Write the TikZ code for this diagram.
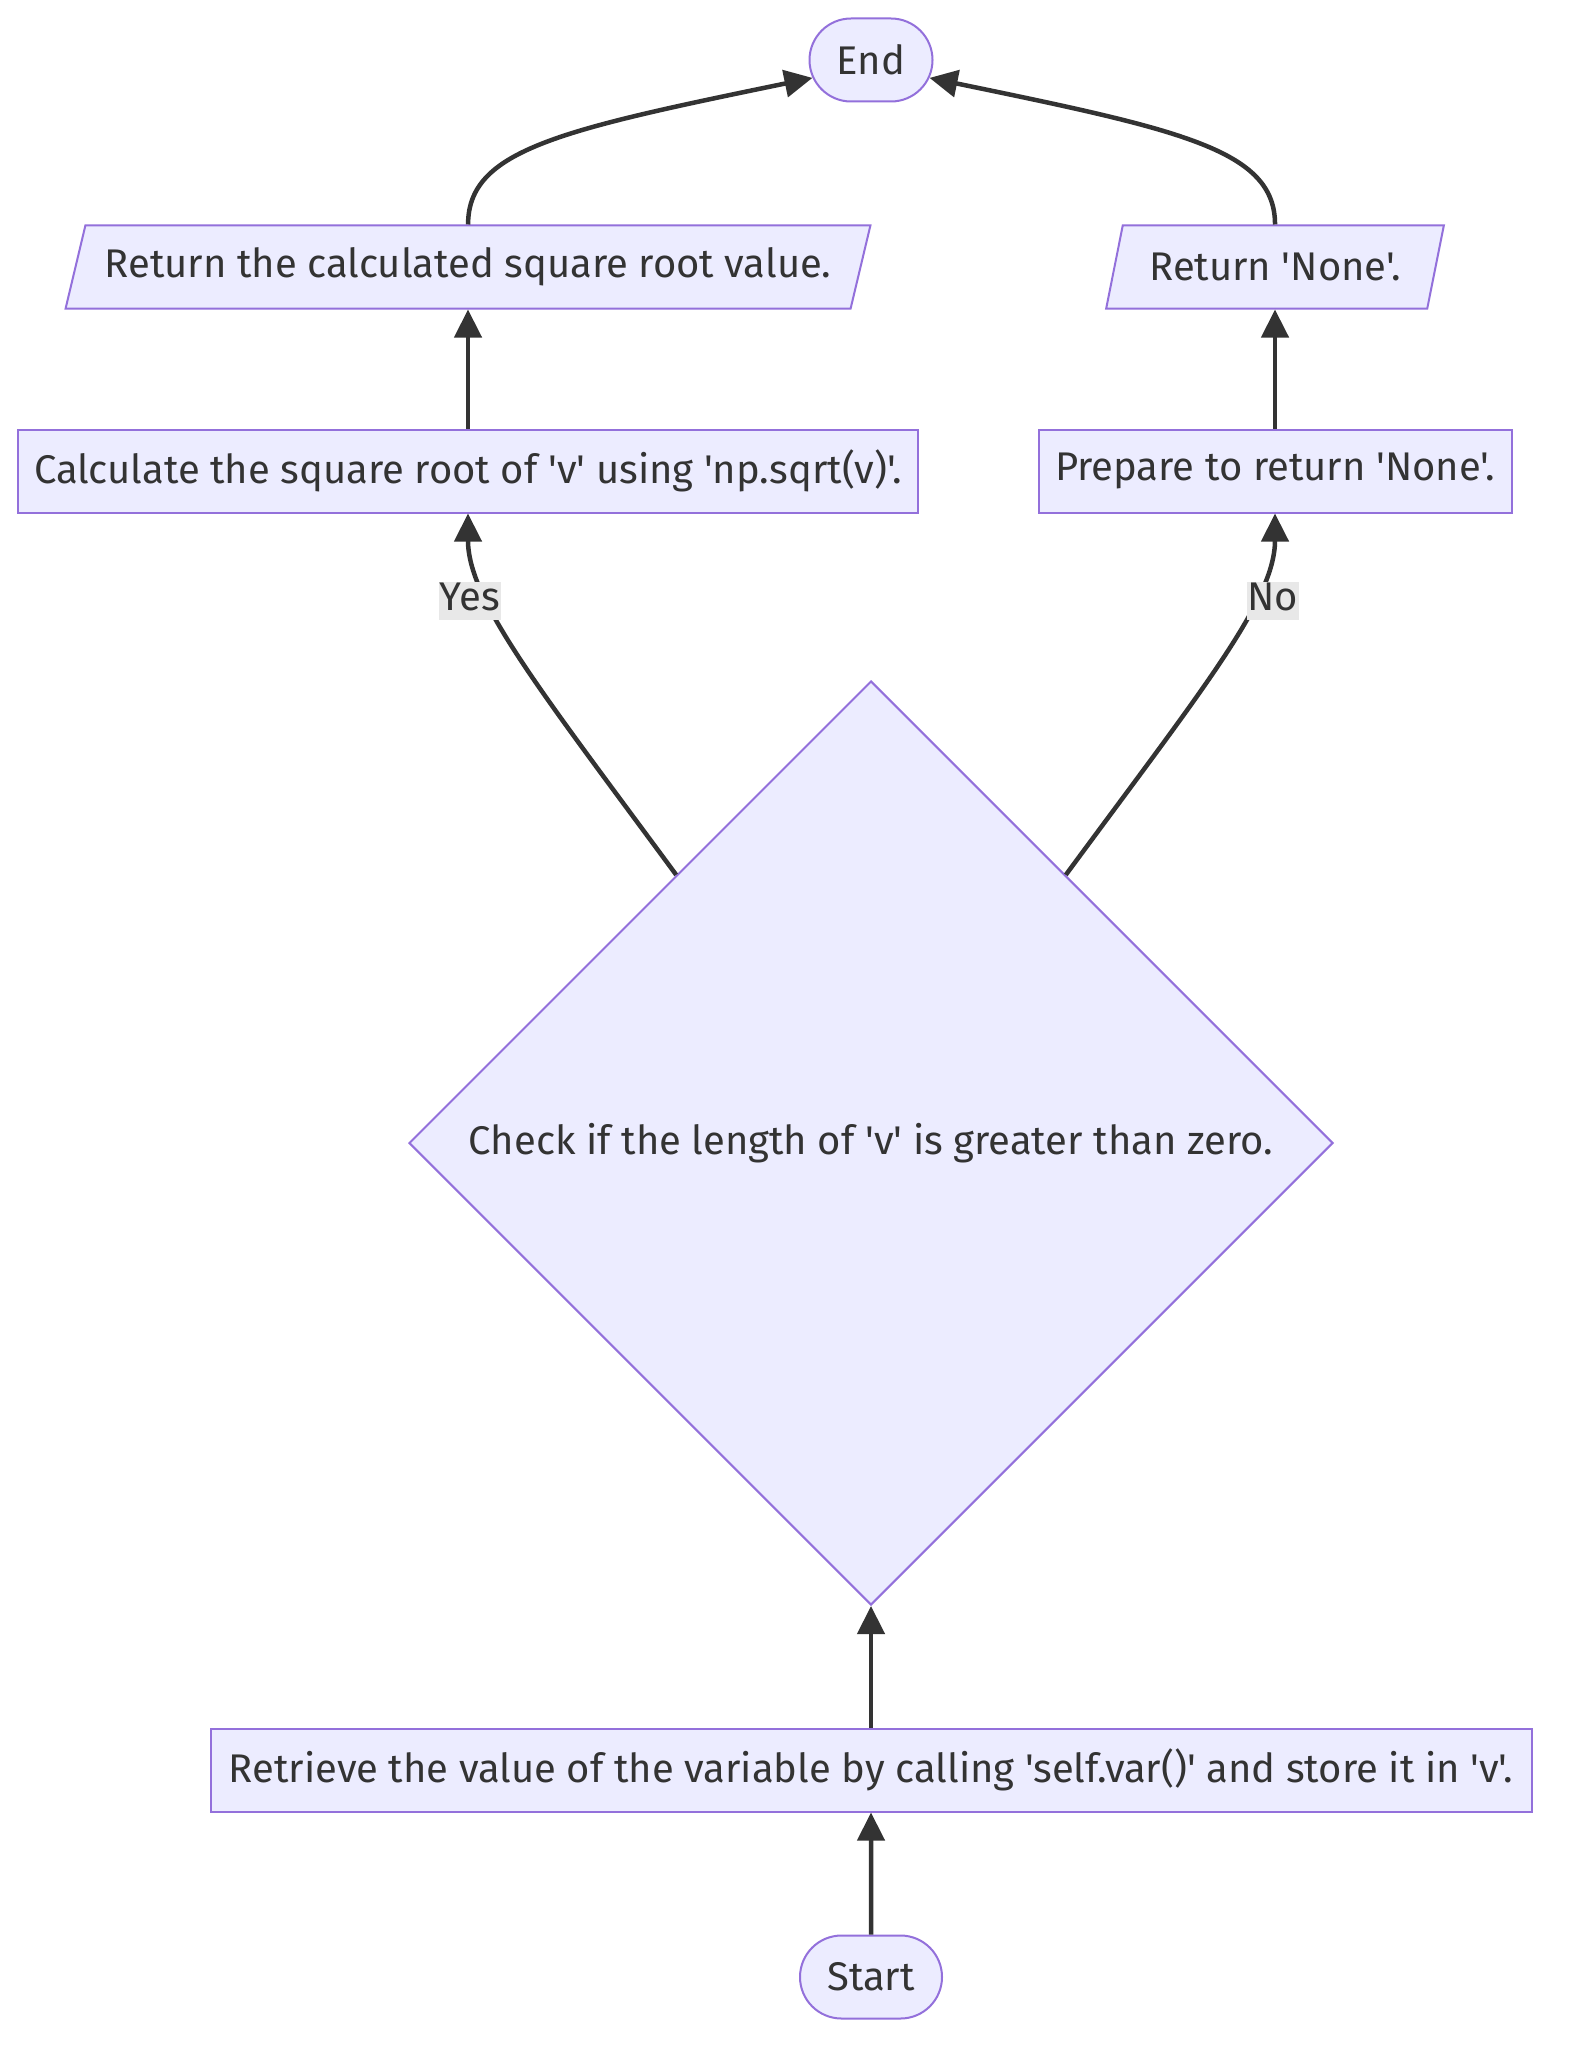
\documentclass[tikz,border=0pt]{standalone}
\usepackage{fontspec}
\setmainfont{Fira Sans}[Ligatures = TeXOff]
\usetikzlibrary{shapes.geometric, shapes.misc, arrows.meta, positioning}

\definecolor{nodefill}{HTML}{ECECFF}
\definecolor{nodeline}{HTML}{9370DB}
\definecolor{inkgray}{HTML}{333333}
\definecolor{labelfill}{HTML}{E8E8E8}

\begin{document}
\begin{tikzpicture}[
    x = 1pt, y = -1pt,
    box/.style = {
      draw = nodeline,
      fill = nodefill,
      line width = 2pt,
      text = inkgray,
      font = \fontsize{40}{48}\selectfont,
      inner sep = 0pt,
      minimum height = 83pt,
    },
    process/.style = {box, rectangle},
    terminal/.style = {box, rounded rectangle},
    inout/.style = {
      box,
      trapezium,
      trapezium left angle = 64,
      trapezium right angle = 116,
      trapezium stretches = true,
    },
    decision/.style = {
      box,
      diamond,
      aspect = 1,
      minimum width = 924pt,
      minimum height = 924pt,
    },
    flow/.style = {
      draw = inkgray,
      line width = 4.5pt,
      -{Triangle[length = 28pt, width = 27pt]},
    },
    branch/.style = {
      fill = labelfill,
      text = inkgray,
      font = \fontsize{40}{48}\selectfont,
      inner xsep = 1pt,
      inner ysep = 1pt,
      text height = 28pt,
      text depth = 8pt,
    },
  ]
  \fill [white] (0, 0) rectangle (1568, 2060);
  \useasboundingbox (0, 0) rectangle (1568, 2060);

  \node [terminal, minimum width = 142pt] (start) at (871, 1977) {Start};
  \node [process, minimum width = 1321pt] (retrieve) at (871, 1770) {
    Retrieve the value of the variable by calling 'self.var()' and store it in 'v'.};
  \node [decision] (check) at (871, 1143) {
    \makebox[0pt]{Check if the length of 'v' is greater than zero.}};
  \node [process, minimum width = 900pt] (calc) at (468, 471) {
    Calculate the square root of 'v' using 'np.sqrt(v)'.};
  \node [process, minimum width = 473pt] (prepare) at (1275, 471) {
    Prepare to return 'None'.};
  \node [inout, minimum width = 812pt] (ret value) at (468, 267) {
    Return the calculated square root value.};
  \node [inout, minimum width = 338pt] (ret none) at (1275, 267) {
    Return 'None'.};
  \node [terminal, minimum width = 123pt] (stop) at (871, 60) {End};

  \draw [flow] (start) -- (retrieve);
  \draw [flow] (retrieve) -- (check);
  \draw [flow] (check.126) .. controls (540, 690) and (468, 600) .. (calc.south)
    node [branch, pos = 0.68, xshift = -20pt] {Yes};
  \draw [flow] (check.54) .. controls (1202, 690) and (1275, 600) .. (prepare.south)
    node [branch, pos = 0.68, xshift = 20pt] {No};
  \draw [flow] (calc) -- (ret value);
  \draw [flow] (prepare) -- (ret none);
  \draw [flow] (ret value.north) .. controls (468, 150) and (560, 130) .. (stop.197);
  \draw [flow] (ret none.north) .. controls (1275, 150) and (1182, 130) .. (stop.-17);
\end{tikzpicture}
\end{document}
